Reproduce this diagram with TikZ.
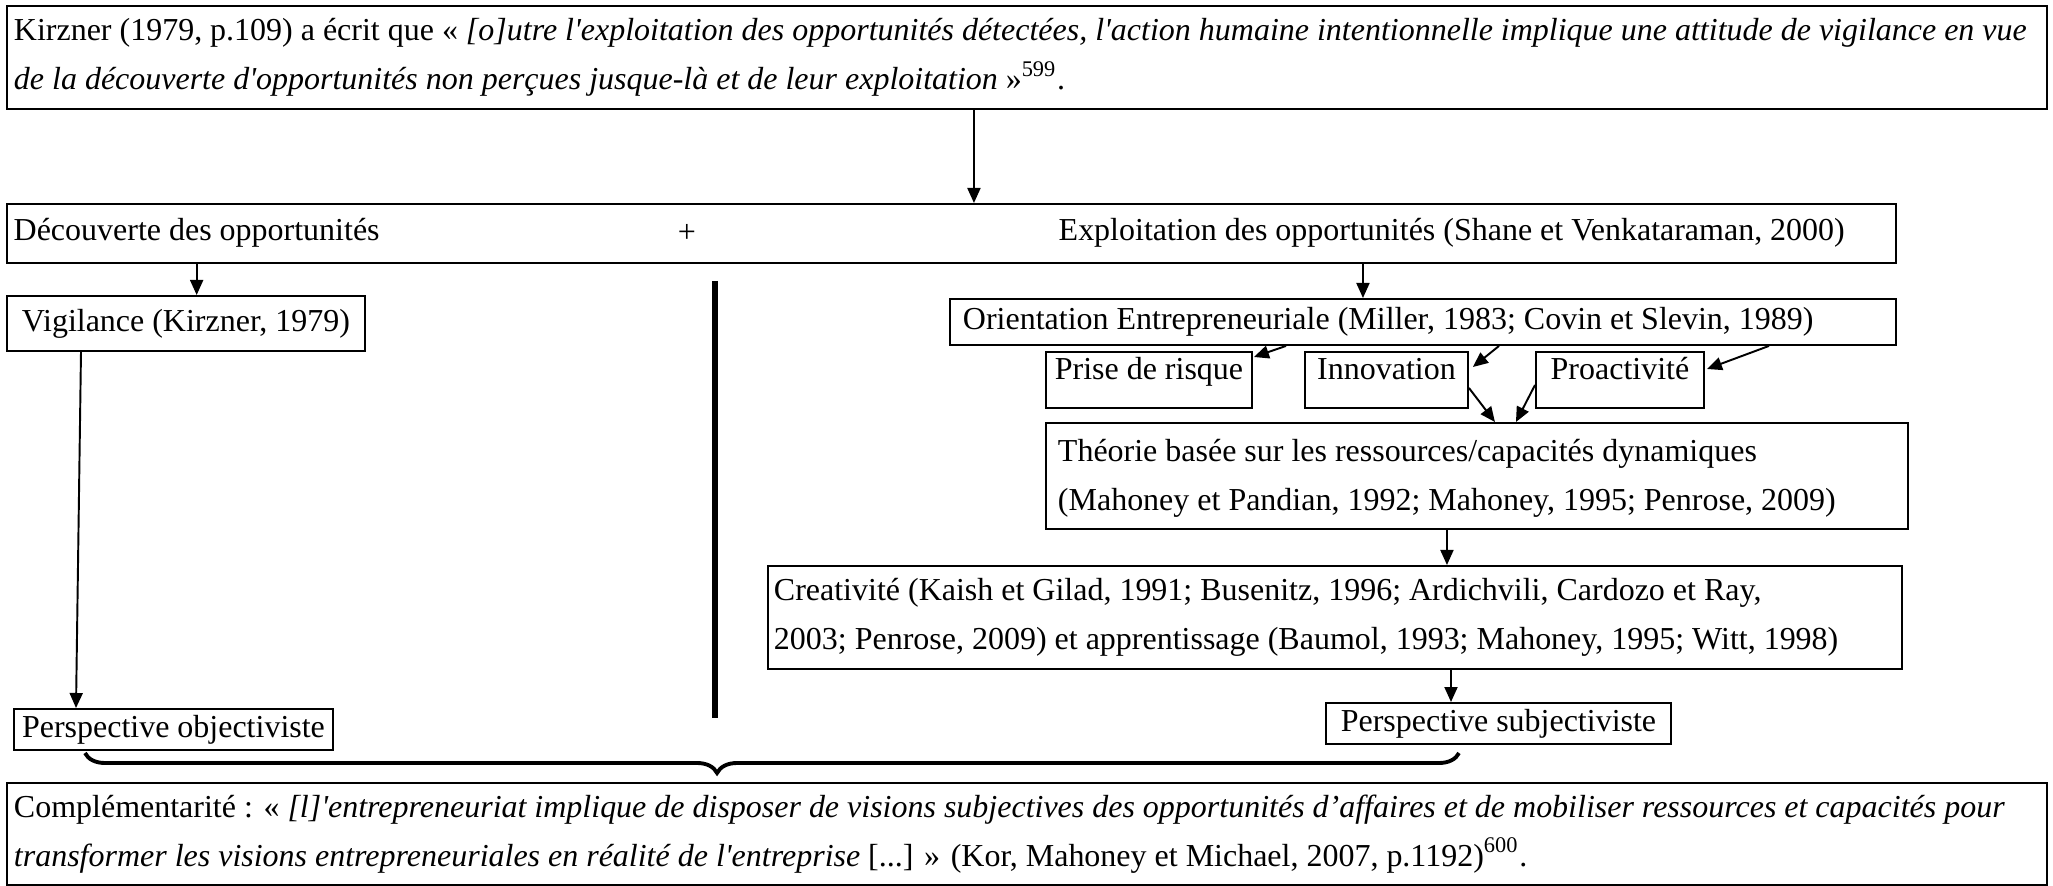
\documentclass[tikz,border=0pt]{standalone}
\usepackage{fontspec}
\setmainfont{Liberation Serif}[Ligatures=TeXOff]
\usetikzlibrary{arrows.meta,decorations.pathreplacing}

\tikzset{
  boite/.style={draw, line width=.55pt, anchor=north west, align=flush left, inner xsep=1mm, inner ysep=0pt},
  petite/.style={boite, inner xsep=.5mm, text height=2.8mm, text depth=2.8mm},
  texte/.style={anchor=west, inner sep=0pt},
  fleche/.style={line width=.55pt, -{Triangle[length=1.5mm,width=1.3mm]}},
  barre/.style={line width=1.9pt},
  accolade/.style={line width=1.1pt, decorate, decoration={brace, mirror, amplitude=2mm, aspect=.46}}
}

\begin{document}
\begin{tikzpicture}[x=.1mm, y=-.1mm, every node/.style={font=\fontsize{9.1}{14}\selectfont}]
  \useasboundingbox (0,0) rectangle (2053,886);

  \node[boite, minimum width=204mm, minimum height=10.3mm, inner xsep=.7mm, text width=202.6mm] (haut) at (6,5)
    {\mbox{Kirzner (1979, p.109) a écrit que « \textit{[o]utre l'exploitation des opportunités détectées, l'action humaine intentionnelle implique une attitude de vigilance en vue}}\\
     \mbox{\textit{de la découverte d'opportunités non perçues jusque-là et de leur exploitation} »\textsuperscript{599}.}};

  \node[boite, minimum width=188.9mm, minimum height=5.9mm] (rangee) at (6,203) {};
  \node[texte] (dec) at (13,233) {Découverte des opportunités};
  \node[inner sep=0pt] (plus) at (687,233) {+};
  \node[texte] (expl) at (1058,233) {Exploitation des opportunités (Shane et Venkataraman, 2000)};

  \node[boite, minimum width=35.8mm, minimum height=5.5mm] (vigil) at (6,295) {Vigilance (Kirzner, 1979)};
  \node[boite, minimum width=94.6mm, minimum height=4.6mm, inner xsep=1.3mm, text width=92mm] (orient) at (949,298)
    {Orientation Entrepreneuriale (Miller, 1983; Covin et Slevin, 1989)};

  \node[petite, minimum width=20.6mm] (prise) at (1045,351) {Prise de risque};
  \node[petite, minimum width=16.3mm] (innov) at (1304,351) {Innovation};
  \node[petite, minimum width=16.8mm] (proact) at (1535,351) {Proactivité};

  \node[boite, minimum width=86.2mm, minimum height=10.6mm, inner xsep=1.2mm, text width=83.8mm, text depth=5.2mm] (theorie) at (1045,422)
    {Théorie basée sur les ressources/capacités dynamiques\\
     (Mahoney et Pandian, 1992; Mahoney, 1995; Penrose, 2009)};
  \node[boite, minimum width=113.4mm, minimum height=10.3mm, inner xsep=.6mm, text width=112.2mm] (creat) at (767,565)
    {\mbox{Creativité (Kaish et Gilad, 1991; Busenitz, 1996; Ardichvili, Cardozo et Ray,}\\
     \mbox{2003; Penrose, 2009) et apprentissage (Baumol, 1993; Mahoney, 1995; Witt, 1998)}};

  \node[boite, minimum width=31.9mm, minimum height=4.1mm, inner xsep=.3mm] (objectif) at (13,708) {Perspective objectiviste};
  \node[boite, minimum width=34.5mm, minimum height=4.1mm, inner xsep=.3mm] (subjectif) at (1325,702) {Perspective subjectiviste};

  \node[boite, minimum width=204mm, minimum height=10.2mm, inner xsep=.7mm, text width=202.6mm] (bas) at (6,782)
    {\mbox{Complémentarité : « \textit{[l]'entrepreneuriat implique de disposer de visions subjectives des opportunités d’affaires et de mobiliser ressources et capacités pour}}\\
     \mbox{\textit{transformer les visions entrepreneuriales en réalité de l'entreprise} [...] » (Kor, Mahoney et Michael, 2007, p.1192)\textsuperscript{600}.}};

  \coordinate (fh) at ([shift={(-53,0)}]haut.south);
  \coordinate (fo) at ([shift={(-60,0)}]orient.north);
  \coordinate (ft) at ([shift={(-30,0)}]theorie.south);
  \coordinate (fs) at ([shift={(126,0)}]subjectif.north west);

  \draw[fleche] (fh) -- (fh |- rangee.north);
  \draw[fleche] (dec.south |- rangee.south) -- (dec.south |- vigil.north);
  \draw[fleche] (fo |- rangee.south) -- (fo);
  \draw[fleche] ([shift={(75,0)}]vigil.south west) -- ([shift={(63,0)}]objectif.north west);

  \draw[fleche] ([shift={(337,0)}]orient.south west) -- ([shift={(1,6)}]prise.north east);
  \draw[fleche] ([shift={(550,0)}]orient.south west) -- ([shift={(4,16)}]innov.north east);
  \draw[fleche] ([shift={(820,0)}]orient.south west) -- ([shift={(2,18)}]proact.north east);
  \draw[fleche] ([shift={(0,8)}]innov.east) -- ([shift={(18,0)}]theorie.north);
  \draw[fleche] ([shift={(0,5)}]proact.west) -- ([shift={(39,0)}]theorie.north);
  \draw[fleche] (ft) -- (ft |- creat.north);
  \draw[fleche] (fs |- creat.south) -- (fs);

  \draw[barre] (715,281) -- (715,718);
  \draw[accolade] (85,753) -- (1459,753);
\end{tikzpicture}
\end{document}
